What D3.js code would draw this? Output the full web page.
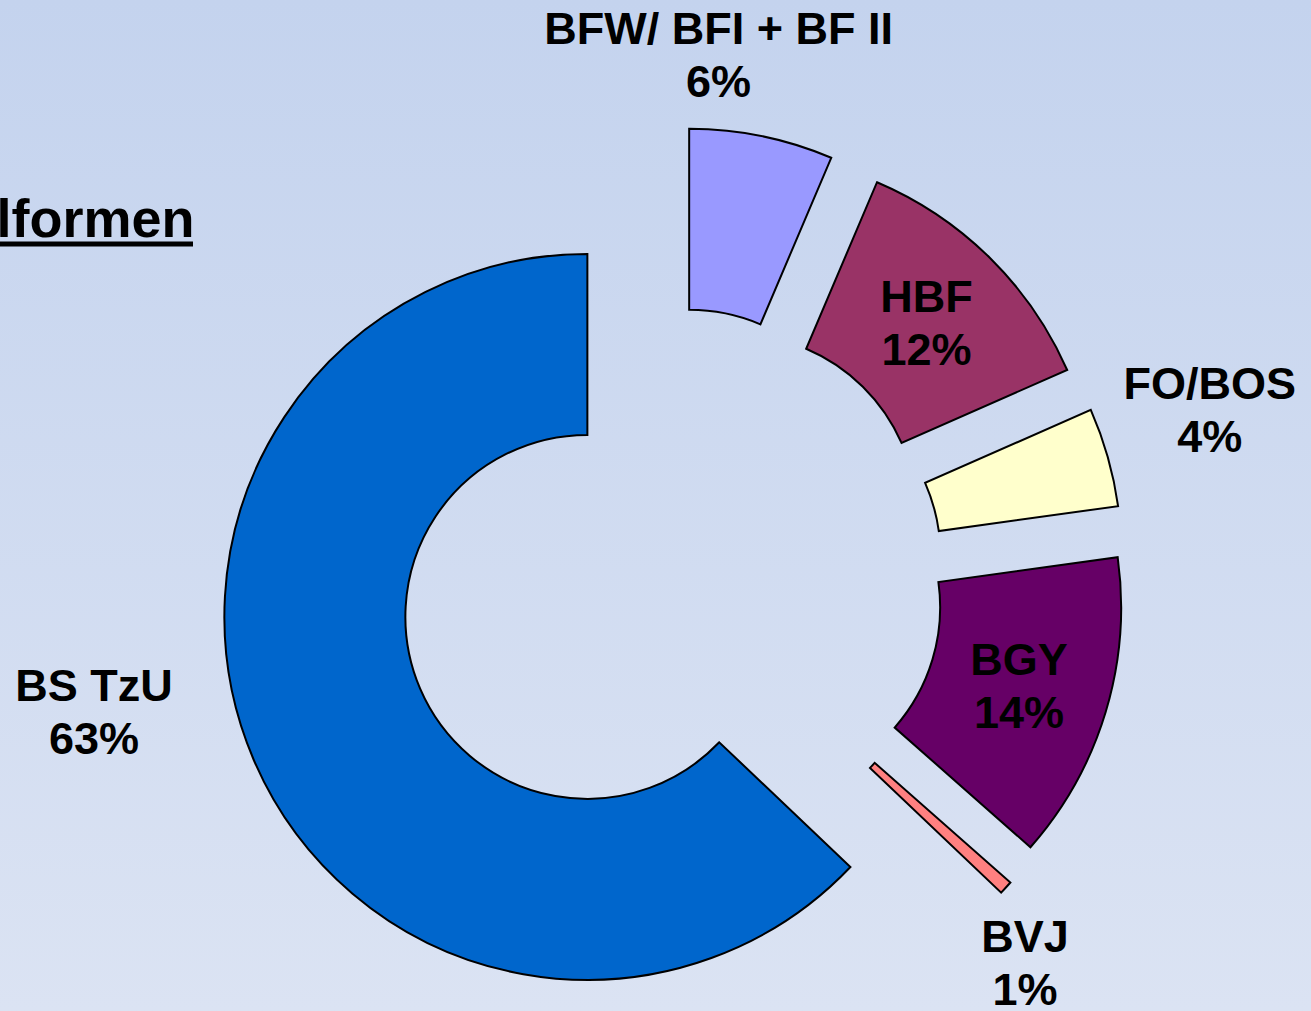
<!DOCTYPE html>
<html>
<head>
<meta charset="utf-8">
<script src="https://cdn.jsdelivr.net/npm/d3@7"></script>
<style>
  body { margin: 0; overflow: hidden; }
  text { font-family: "Liberation Sans", Arial, sans-serif; font-weight: bold; fill: #000; }
</style>
</head>
<body>
<div id="chart"></div>
<script>
// shares of the school types, clockwise from 12 o'clock
var categories = ["BFW/ BFI + BF II", "HBF", "FO/BOS", "BGY", "BVJ", "BS TzU"];
var shares = [6.4, 12.0, 4.4, 13.7, 0.6, 62.9];
var colors = ["#9999ff", "#993366", "#ffffcc", "#660066", "#ff8080", "#0066cc"];
var titleText = "lformen";

var w = 1311, h = 1011;
var cx = 671, cy = 581;
var r_out = 363, r_in = 182, explode = 91;
var fontSize = 45, lineGap = 53;

// which labels sit inside their slice, the rest get pushed out
var insideLabel = { "HBF": true, "BGY": true };
var labelNudge = {
    "BFW/ BFI + BF II": [-25, -170],
    "FO/BOS": [189, -72],
    "BVJ": [86, 136],
    "BS TzU": [-243, -13]
};

var svg = d3.select("#chart")
    .append("svg")
    .attr("width", w)
    .attr("height", h);

var grad = svg.append("defs")
    .append("linearGradient")
    .attr("id", "bg")
    .attr("x1", 0).attr("y1", 0)
    .attr("x2", 0).attr("y2", 1);
grad.append("stop").attr("offset", "0%").attr("stop-color", "#c4d3ee");
grad.append("stop").attr("offset", "100%").attr("stop-color", "#dbe3f3");

svg.append("rect")
    .attr("width", w)
    .attr("height", h)
    .attr("fill", "url(#bg)");

// cut off title on the left edge
svg.append("text")
    .attr("x", -3.5)
    .attr("y", 237)
    .style("font-size", "54px")
    .text(titleText);
svg.append("line")
    .attr("x1", 0).attr("x2", 193)
    .attr("y1", 244).attr("y2", 244)
    .attr("stroke", "#000")
    .attr("stroke-width", 5);

var data = categories.map(function(c, i) {
    return { name: c, value: shares[i], color: colors[i] };
});

var pie = d3.pie()
    .sort(null)
    .value(function(d) { return d.value; });

var arc = d3.arc()
    .innerRadius(r_in)
    .outerRadius(r_out);

var arcs = pie(data);
var total = d3.sum(shares);

function offset(d) {
    var a = (d.startAngle + d.endAngle) / 2;
    return [Math.sin(a) * explode, -Math.cos(a) * explode];
}

var g = svg.append("g")
    .attr("transform", "translate(" + cx + "," + cy + ")");

g.selectAll(".slice")
    .data(arcs)
    .enter()
    .append("path")
    .attr("class", "slice")
    .attr("transform", function(d) {
        var o = offset(d);
        return "translate(" + o[0] + "," + o[1] + ")";
    })
    .attr("d", arc)
    .attr("fill", function(d) { return d.data.color; })
    .attr("stroke", "#000")
    .attr("stroke-width", 2)
    .attr("stroke-linejoin", "miter");

var labels = g.selectAll(".lbl")
    .data(arcs)
    .enter()
    .append("text")
    .attr("class", "lbl")
    .style("font-size", fontSize + "px")
    .style("text-anchor", "middle")
    .attr("transform", function(d) {
        var o = offset(d);
        var c = arc.centroid(d);
        var n = insideLabel[d.data.name] ? [0, 0] : labelNudge[d.data.name];
        return "translate(" + (c[0] + o[0] + n[0]) + "," + (c[1] + o[1] + n[1]) + ")";
    });

labels.append("tspan")
    .attr("x", 0)
    .attr("y", -10.5)
    .text(function(d) { return d.data.name; });

labels.append("tspan")
    .attr("x", 0)
    .attr("y", -10.5 + lineGap)
    .text(function(d) { return Math.round(d.data.value / total * 100) + "%"; });
</script>
</body>
</html>
